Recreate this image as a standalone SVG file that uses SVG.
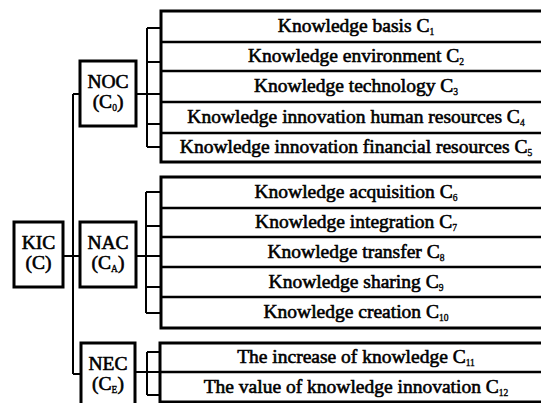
<svg xmlns="http://www.w3.org/2000/svg" width="541" height="403" viewBox="0 0 541 403">
<style>
text{font-family:"Liberation Serif","Times New Roman",serif;font-size:19.5px;fill:#000;stroke:#000;stroke-width:0.6px;text-anchor:middle}
.sub{font-size:9.5px;stroke-width:0.35px}
.node{fill:#fff;stroke:#000;stroke-width:3}
.tbl{fill:#fff;stroke:#000;stroke-width:3}
.sep{stroke:#000;stroke-width:2.5;fill:none}
.con{stroke:#000;stroke-width:2;fill:none}
</style>
<rect width="541" height="403" fill="#fff"/>
<g id="connectors">
<path class="con" d="M73,94 V374 M73,94 H80 M63,256 H80 M73,374 H81"/>
<path class="con" d="M136,94 H147 M147,28 V147 M147,28 H160 M147,62 H160 M147,94 H160 M147,124 H160 M147,147 H160"/>
<path class="con" d="M136,256 H146 M146,192 V313 M146,192 H160 M146,226 H160 M146,256 H160 M146,287 H160 M146,313 H160"/>
<path class="con" d="M135,372 H160 M147,352 V395 M147,352 H160 M147,395 H160"/>
</g>
<g id="KIC">
<rect class="node" x="14" y="222" width="49" height="65"/>
<text x="38.5" y="249">KIC</text>
<text x="38.5" y="269">(C)</text>
</g>
<g id="NOC">
<rect class="node" x="80" y="61" width="56" height="65"/>
<text x="108" y="88">NOC</text>
<text x="108" y="108">(C<tspan class="sub" dy="3">0</tspan><tspan dy="-3">)</tspan></text>
</g>
<g id="NAC">
<rect class="node" x="80" y="222" width="56" height="65"/>
<text x="108" y="249">NAC</text>
<text x="108" y="269">(C<tspan class="sub" dy="3">A</tspan><tspan dy="-3">)</tspan></text>
</g>
<g id="NEC">
<rect class="node" x="81" y="343" width="54" height="70"/>
<text x="108" y="370">NEC</text>
<text x="108" y="390">(C<tspan class="sub" dy="3">E</tspan><tspan dy="-3">)</tspan></text>
</g>
<g id="NOC-items">
<rect class="tbl" x="161" y="11" width="400" height="151"/>
<path class="sep" d="M161,42 H561 M161,71 H561 M161,102 H561 M161,133 H561"/>
<text x="356" y="32">Knowledge basis C<tspan class="sub" dy="3">1</tspan></text>
<text x="356" y="62">Knowledge environment C<tspan class="sub" dy="3">2</tspan></text>
<text x="356" y="92">Knowledge technology C<tspan class="sub" dy="3">3</tspan></text>
<text x="356" y="123">Knowledge innovation human resources C<tspan class="sub" dy="3">4</tspan></text>
<text x="356" y="153">Knowledge innovation financial resources C<tspan class="sub" dy="3">5</tspan></text>
</g>
<g id="NAC-items">
<rect class="tbl" x="161" y="177" width="400" height="151"/>
<path class="sep" d="M161,208 H561 M161,237 H561 M161,267 H561 M161,297 H561"/>
<text x="356" y="198">Knowledge acquisition C<tspan class="sub" dy="3">6</tspan></text>
<text x="356" y="228">Knowledge integration C<tspan class="sub" dy="3">7</tspan></text>
<text x="356" y="257.5">Knowledge transfer C<tspan class="sub" dy="3">8</tspan></text>
<text x="356" y="287.5">Knowledge sharing C<tspan class="sub" dy="3">9</tspan></text>
<text x="356" y="318">Knowledge creation C<tspan class="sub" dy="3">10</tspan></text>
</g>
<g id="NEC-items">
<rect class="tbl" x="160" y="343" width="401" height="59"/>
<path class="sep" d="M160,372 H561"/>
<text x="356" y="363">The increase of knowledge C<tspan class="sub" dy="3">11</tspan></text>
<text x="356" y="392.5">The value of knowledge innovation C<tspan class="sub" dy="3">12</tspan></text>
</g>
</svg>
